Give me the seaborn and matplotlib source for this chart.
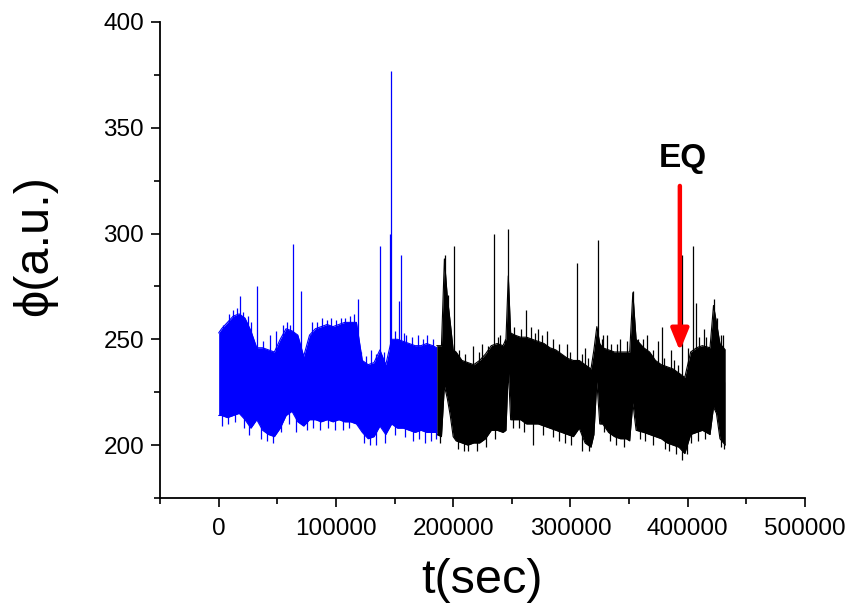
import matplotlib
matplotlib.use("Agg")
import numpy as np
import pandas as pd
import seaborn as sns
import matplotlib.pyplot as plt

# ---- data (envelope of the dense signal) ----
blue_t = [0, 2500, 7500, 12500, 17500, 22500, 27500, 32500, 37500, 42500,
          47500, 52500, 57500, 62500, 67500, 72500, 77500, 82500, 87500, 92500,
          97500, 102500, 107500, 112500, 117500, 122500, 127500, 132500, 137500, 142500,
          147500, 152500, 157500, 162500, 167500, 172500, 177500, 182500, 186000]
blue_hi = [253, 255, 258, 261, 262, 260, 254, 246, 246, 245,
           244, 250, 255, 254, 252, 242, 252, 255, 256, 257,
           256, 257, 258, 258, 258, 240, 238, 239, 245, 238,
           250, 250, 249, 248, 247, 247, 248, 247, 246]
blue_lo = [214, 214, 213, 214, 215, 212, 208, 212, 207, 205,
           204, 208, 214, 216, 211, 209, 212, 212, 211, 212,
           211, 212, 211, 211, 210, 206, 203, 204, 209, 205,
           210, 208, 208, 207, 206, 207, 206, 206, 206]

black_t = [186000, 190000, 192500, 195000, 197500, 200000, 202500, 207500, 212500, 217500,
           222500, 227500, 232500, 237500, 242500, 245000, 247000, 249000, 252500, 257500,
           262500, 267500, 272500, 277500, 282500, 287500, 292500, 297500, 302500, 307500,
           312500, 317500, 320000, 322500, 325000, 327500, 332500, 337500, 342500, 347500,
           350500, 353200, 356000, 362500, 367500, 372500, 377500, 382500, 387500, 392500,
           397500, 402500, 407500, 412500, 419000, 422000, 424500, 427500, 432000]
black_hi = [247, 247, 288, 270, 258, 245, 244, 240, 239, 238,
            240, 243, 247, 248, 247, 250, 280, 253, 252, 251,
            251, 250, 249, 248, 246, 245, 243, 241, 240, 240,
            238, 236, 245, 256, 248, 246, 245, 244, 244, 244,
            244, 272, 250, 246, 244, 240, 238, 237, 236, 234,
            232, 244, 246, 247, 246, 266, 258, 248, 245]
black_lo = [205, 204, 228, 222, 214, 204, 202, 201, 200, 201,
            201, 203, 207, 207, 206, 207, 236, 212, 212, 212,
            210, 210, 210, 209, 208, 207, 206, 205, 204, 208,
            201, 199, 205, 230, 210, 210, 206, 204, 203, 203,
            202, 220, 207, 206, 205, 204, 203, 201, 200, 199,
            196, 205, 206, 207, 205, 218, 215, 203, 200]

# spikes / short excursions beyond the band (time, extreme value)
blue_spike_t = [9000, 18000, 25000, 33000, 44000, 49000, 63400, 70000, 88000, 96000,
                104000, 112000, 115500, 118600, 130000, 137400, 146000, 147300, 153600, 155900,
                160000, 170000, 178000,
                4000, 12000, 16000, 21000, 28000, 38000, 55000, 58000, 61000, 80000,
                84000, 92000, 100000, 108000, 121000, 126000, 134000, 141000, 150000, 158000,
                165000, 174000, 183000,
                3000, 8000, 14000, 21500, 26000, 36000, 41000, 46000, 53000, 60000,
                66000, 75000, 80500, 86000, 93000, 99000, 106000, 111000, 124000, 129000,
                134500, 141500, 150500, 158500, 165500, 171000, 176000, 181000, 185000]
blue_spike_v = [262, 270.5, 261, 275, 252, 254, 295, 273, 260, 260,
                260, 261, 262, 269, 245, 294, 300, 377, 268, 290,
                252, 252, 252,
                257, 264, 265, 263, 258, 249, 257, 258, 257, 258,
                258, 259, 259, 260, 244, 242, 243, 244, 254, 253,
                251, 250, 250,
                209, 210, 211, 208, 205, 203, 202, 201, 206, 210,
                206, 207, 208, 207, 208, 207, 207, 208, 201, 200,
                200, 201, 205, 204, 202, 203, 201, 202, 203]
black_spike_t = [192800, 196000, 201000, 217000, 225000, 234400, 240000, 246700, 262500, 266000,
                 272000, 280000, 297000, 305700, 312000, 323600, 328000, 331000, 342000, 353500,
                 365000, 375000, 377700, 386000, 395300, 404100, 407000, 414000, 422000, 425000,
                 430000,
                 205000, 210000, 222000, 230000, 238000, 244000, 252000, 258000, 270000, 276000,
                 285000, 290000, 300000, 310000, 315000, 327000, 335000, 340000, 348000, 358000,
                 362000, 370000, 380000, 388000, 392000, 400000, 410000, 416000, 428000,
                 189000, 204000, 209000, 213000, 220000, 228000, 236000, 251000, 256000, 260000,
                 268000, 276500, 285500, 290500, 295000, 300500, 310000, 315500, 329000, 334000,
                 339000, 346000, 359000, 364000, 370500, 380500, 384000, 390000, 395500, 399500,
                 403000, 409000, 415000, 428500, 431000]
black_spike_v = [290, 271, 294, 247, 248, 300, 252, 302, 264, 256,
                 255, 254, 248, 286, 246, 297, 252, 252, 250, 273,
                 252, 249, 256, 245, 290, 294, 267, 255, 269, 260,
                 252,
                 245, 243, 244, 247, 251, 250, 256, 255, 253, 252,
                 250, 248, 244, 243, 241, 250, 248, 248, 249, 250,
                 250, 245, 241, 240, 238, 246, 251, 251, 252,
                 201, 198, 197, 197, 197, 199, 203, 208, 208, 206,
                 200, 205, 204, 202, 201, 200, 197, 197, 206, 202,
                 200, 199, 203, 202, 200, 198, 197, 196, 193, 196,
                 201, 202, 203, 199, 198]

x_ticks = [0, 100000, 200000, 300000, 400000, 500000]
y_ticks = [200, 250, 300, 350, 400]

eq_t = 393300
eq_tail = 322.5
eq_head = 244.5

# ---- styling ----
sns.set_theme(style="ticks")
plt.rcParams["font.family"] = ["Liberation Sans", "DejaVu Sans"]
plt.rcParams["text.color"] = "black"
plt.rcParams["axes.labelcolor"] = "black"

fig = plt.figure(figsize=(8.53, 6.07), dpi=100)
ax = fig.add_axes([0.1876, 0.1796, 0.9437 - 0.1876, 0.9638 - 0.1796])

BLUE = "#0000ff"
BLACK = "#000000"

for t, hi, lo, col in [(blue_t, blue_hi, blue_lo, BLUE), (black_t, black_hi, black_lo, BLACK)]:
    ax.fill_between(t, lo, hi, color=col, linewidth=0)
    df = pd.DataFrame({"t": t + t, "v": hi + lo, "edge": ["hi"] * len(t) + ["lo"] * len(t)})
    sns.lineplot(data=df, x="t", y="v", units="edge", estimator=None, color=col,
                 linewidth=0.8, ax=ax, legend=False)

ax.vlines(blue_spike_t, 230, blue_spike_v, color=BLUE, linewidth=0.9)
ax.vlines(black_spike_t, 230, black_spike_v, color=BLACK, linewidth=0.9)

ax.annotate("", xy=(eq_t, eq_head), xytext=(eq_t, eq_tail),
            arrowprops=dict(arrowstyle="-|>,head_length=1.1,head_width=0.45",
                            color="#ff0000", linewidth=3.2, shrinkA=0, shrinkB=0))
ax.text(396000, 335.5, "EQ", fontsize=24, fontweight="bold", ha="center", va="center",
        color="black")

ax.set_xlim(-50000, 500000)
ax.set_ylim(175, 400)
ax.set_xticks(x_ticks)
ax.set_xticklabels([str(v) for v in x_ticks])
ax.set_yticks(y_ticks)
ax.set_yticklabels([str(v) for v in y_ticks])
ax.set_xticks(np.arange(-50000, 500001, 50000), minor=True)
ax.set_yticks(np.arange(175, 401, 25), minor=True)

for s in ["top", "right"]:
    ax.spines[s].set_visible(False)
for s in ["left", "bottom"]:
    ax.spines[s].set_linewidth(1.3)
    ax.spines[s].set_color("black")

ax.tick_params(which="major", direction="out", length=6.5, width=1.2, color="black",
               labelsize=17.5, labelcolor="black")
ax.tick_params(which="minor", direction="out", length=4, width=1.2, color="black")
ax.tick_params(axis="x", which="major", pad=8)
ax.tick_params(axis="y", which="major", pad=5)

ax.set_xlabel("t(sec)", fontsize=35, labelpad=13, color="black")
ax.set_ylabel("ϕ(a.u.)", fontsize=35, color="black")
ax.yaxis.set_label_coords(-0.16, 0.53)
ax.grid(False)

fig.savefig("out.png", dpi=100)
